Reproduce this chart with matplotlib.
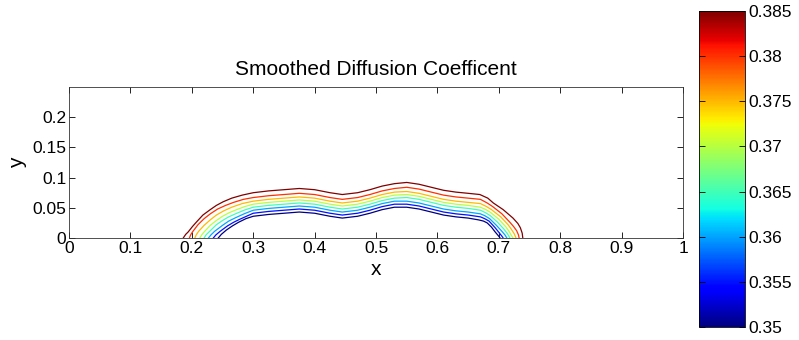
import numpy as np
import matplotlib
matplotlib.use("Agg")
import matplotlib.pyplot as plt
import matplotlib as mpl

plt.rcParams['font.family'] = ['Liberation Sans', 'DejaVu Sans']

# contour levels (outer -> inner)
levels = [0.385, 0.38, 0.375, 0.37, 0.365, 0.36, 0.355, 0.35]

# left foot of each contour line
left_x = [
    [0.186, 0.190, 0.194, 0.201, 0.208, 0.218, 0.230, 0.240, 0.251, 0.265, 0.282],
    [0.196, 0.198, 0.201, 0.210, 0.220, 0.230, 0.242, 0.255, 0.268, 0.284],
    [0.205, 0.207, 0.211, 0.220, 0.230, 0.240, 0.252, 0.265, 0.282],
    [0.213, 0.216, 0.220, 0.230, 0.240, 0.250, 0.261, 0.273, 0.286],
    [0.220, 0.223, 0.228, 0.240, 0.250, 0.260, 0.271, 0.285],
    [0.227, 0.231, 0.237, 0.250, 0.260, 0.270, 0.285],
    [0.235, 0.239, 0.246, 0.258, 0.268, 0.278, 0.289],
    [0.243, 0.248, 0.256, 0.266, 0.276, 0.288],
]
left_y = [
    [0.000, 0.006, 0.010, 0.019, 0.027, 0.038, 0.047, 0.054, 0.060, 0.066, 0.071],
    [0.000, 0.005, 0.010, 0.022, 0.032, 0.040, 0.048, 0.054, 0.059, 0.064],
    [0.000, 0.005, 0.011, 0.021, 0.030, 0.038, 0.045, 0.051, 0.057],
    [0.000, 0.005, 0.010, 0.021, 0.029, 0.036, 0.042, 0.047, 0.052],
    [0.000, 0.005, 0.010, 0.022, 0.029, 0.035, 0.040, 0.046],
    [0.000, 0.005, 0.011, 0.021, 0.028, 0.033, 0.040],
    [0.000, 0.005, 0.011, 0.020, 0.026, 0.031, 0.036],
    [0.000, 0.006, 0.013, 0.020, 0.026, 0.032],
]

# top of the arch, same x for every level
arch_x = [0.30, 0.325, 0.35, 0.375, 0.40, 0.425, 0.445, 0.47, 0.49,
          0.51, 0.53, 0.55, 0.57, 0.59, 0.61, 0.63, 0.65]
arch_y = [
    [0.075, 0.078, 0.080, 0.082, 0.080, 0.075, 0.072, 0.075, 0.080, 0.086, 0.090, 0.092, 0.089, 0.084, 0.079, 0.076, 0.074],
    [0.067, 0.070, 0.072, 0.074, 0.072, 0.067, 0.064, 0.067, 0.072, 0.078, 0.082, 0.084, 0.081, 0.076, 0.071, 0.068, 0.066],
    [0.061, 0.064, 0.066, 0.068, 0.066, 0.061, 0.058, 0.061, 0.066, 0.072, 0.076, 0.077, 0.074, 0.069, 0.064, 0.061, 0.059],
    [0.056, 0.059, 0.061, 0.063, 0.061, 0.056, 0.053, 0.056, 0.061, 0.067, 0.071, 0.072, 0.069, 0.064, 0.059, 0.056, 0.054],
    [0.051, 0.054, 0.056, 0.058, 0.056, 0.051, 0.048, 0.051, 0.056, 0.062, 0.066, 0.067, 0.064, 0.059, 0.054, 0.051, 0.049],
    [0.046, 0.049, 0.051, 0.053, 0.051, 0.046, 0.043, 0.046, 0.051, 0.057, 0.061, 0.061, 0.058, 0.053, 0.048, 0.045, 0.043],
    [0.041, 0.044, 0.046, 0.048, 0.046, 0.041, 0.038, 0.041, 0.046, 0.052, 0.056, 0.056, 0.053, 0.048, 0.043, 0.040, 0.038],
    [0.036, 0.039, 0.041, 0.043, 0.041, 0.036, 0.033, 0.036, 0.041, 0.047, 0.051, 0.051, 0.048, 0.043, 0.038, 0.035, 0.033],
]

# right foot of each contour line
right_x = [
    [0.669, 0.682, 0.691, 0.707, 0.723, 0.731, 0.735, 0.738, 0.739],
    [0.670, 0.681, 0.690, 0.705, 0.718, 0.724, 0.729, 0.732, 0.733],
    [0.670, 0.680, 0.688, 0.703, 0.715, 0.720, 0.725, 0.728],
    [0.670, 0.679, 0.687, 0.700, 0.711, 0.716, 0.720, 0.723],
    [0.670, 0.678, 0.686, 0.698, 0.708, 0.714, 0.718],
    [0.670, 0.677, 0.685, 0.696, 0.705, 0.710, 0.713],
    [0.670, 0.677, 0.684, 0.694, 0.701, 0.705, 0.707],
    [0.667, 0.675, 0.681, 0.688, 0.694, 0.699, 0.702],
]
right_y = [
    [0.072, 0.066, 0.058, 0.047, 0.033, 0.024, 0.017, 0.008, 0.000],
    [0.064, 0.058, 0.052, 0.040, 0.026, 0.019, 0.012, 0.005, 0.000],
    [0.057, 0.052, 0.047, 0.035, 0.022, 0.015, 0.007, 0.000],
    [0.051, 0.047, 0.042, 0.031, 0.019, 0.012, 0.005, 0.000],
    [0.046, 0.042, 0.037, 0.026, 0.015, 0.007, 0.000],
    [0.040, 0.037, 0.032, 0.021, 0.011, 0.005, 0.000],
    [0.035, 0.032, 0.028, 0.017, 0.008, 0.003, 0.000],
    [0.030, 0.028, 0.025, 0.018, 0.010, 0.004, 0.000],
]

cbar_ticks = [0.35, 0.355, 0.36, 0.365, 0.37, 0.375, 0.38, 0.385]

fig = plt.figure(figsize=(7.99, 3.40), dpi=100)
ax = fig.add_axes([0.0864, 0.30, 0.7685, 0.444])
cmap = plt.get_cmap('jet')
norm = mpl.colors.Normalize(vmin=0.35, vmax=0.385)

for i, lev in enumerate(levels):
    xs = left_x[i] + arch_x + right_x[i]
    ys = left_y[i] + arch_y[i] + right_y[i]
    ax.plot(xs, ys, color=cmap(norm(lev)), lw=0.9)

ax.set_xlim(0, 1)
ax.set_ylim(0, 0.25)
ax.set_xticks(np.arange(0, 1.01, 0.1))
ax.set_xticklabels(['0', '0.1', '0.2', '0.3', '0.4', '0.5', '0.6', '0.7', '0.8', '0.9', '1'])
ax.set_yticks([0, 0.05, 0.1, 0.15, 0.2])
ax.set_yticklabels(['0', '0.05', '0.1', '0.15', '0.2'])
ax.tick_params(direction='in', length=4, width=0.6, top=True, right=True, labelsize=12.5, pad=2)
for s in ax.spines.values():
    s.set_linewidth(0.6)
    s.set_color('#333333')
ax.set_xlabel('x', fontsize=15, labelpad=3)
ax.set_ylabel('y', fontsize=15, labelpad=4)
ax.set_title('Smoothed Diffusion Coefficent', fontsize=15, pad=9)

cax = fig.add_axes([0.875, 0.038, 0.0576, 0.93])
sm = mpl.cm.ScalarMappable(norm=norm, cmap=cmap)
cb = fig.colorbar(sm, cax=cax, ticks=cbar_ticks)
cb.ax.set_yticklabels(['%g' % t for t in cbar_ticks])
cb.ax.tick_params(direction='in', length=4, width=0.6, left=True, right=True, labelsize=12.5, pad=2)
cb.outline.set_linewidth(0.6)

plt.savefig('out.png', dpi=100)
